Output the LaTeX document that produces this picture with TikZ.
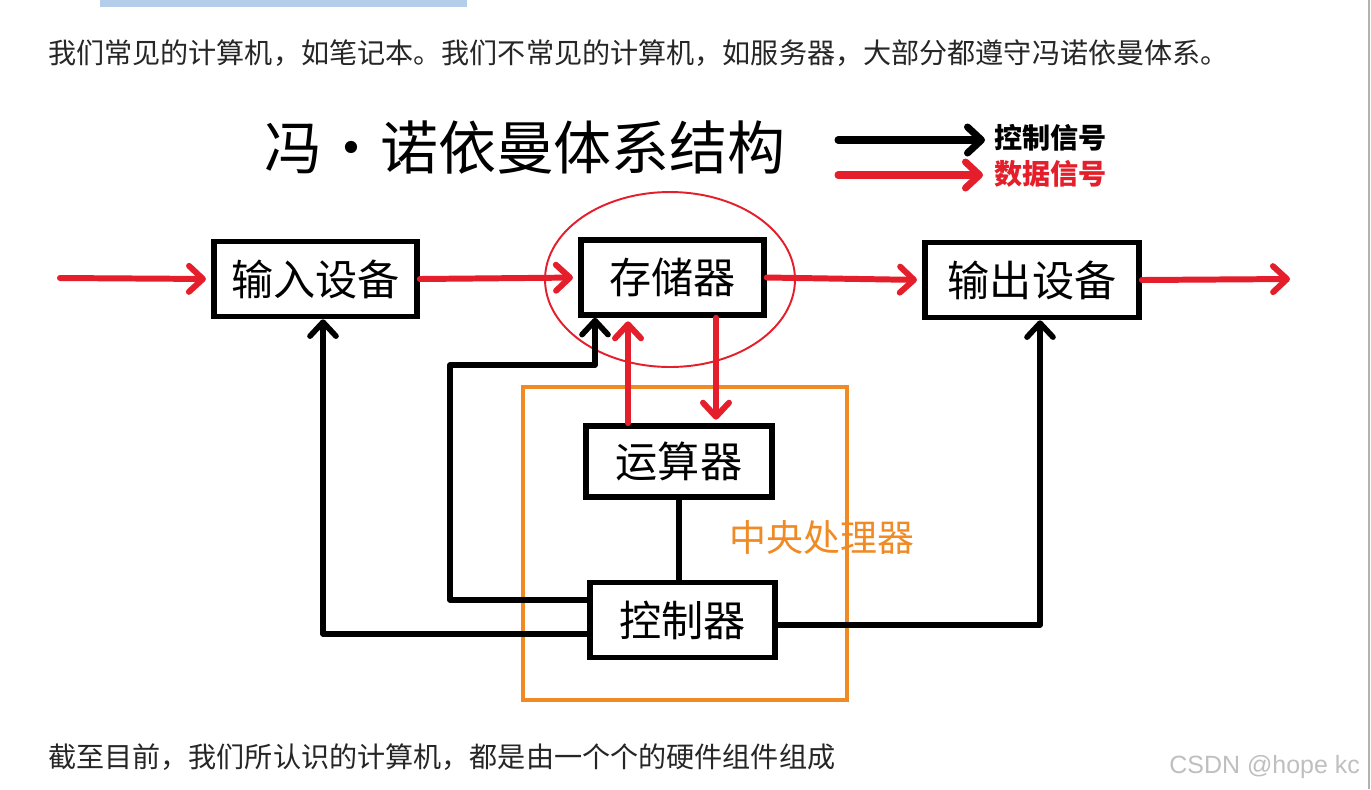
\documentclass[tikz,border=0pt]{standalone}
\usepackage{fontspec}
\setmainfont{Noto Sans CJK SC}
\newfontfamily\wmfont{Liberation Sans}
\usetikzlibrary{arrows.meta}
\definecolor{datared}{HTML}{E41E2B}
\definecolor{cpuorange}{HTML}{F08A24}
\definecolor{barblue}{HTML}{B4CDEB}
\begin{document}
\begin{tikzpicture}[x=.02cm, y=-.02cm,
  >={Straight Barb[round, length=2.8mm, width=5.2mm]},
  unit/.style={draw, line width=3.2pt, minimum height=1.5cm, font=\fontsize{24}{24}\selectfont},
  data/.style={datared, line width=3.4pt, line cap=round},
  ctrl/.style={black, line width=3.2pt, line cap=round, line join=round}]
\useasboundingbox[fill=white](0,0) rectangle (1371,789);
\fill[barblue](100,0) rectangle (467,7);
\draw[gray!60, line width=1pt](1369,0)--(1369,789);
\node[anchor=west, text=black!85, font=\fontsize{16}{16}\selectfont] (intro) at (42,53) {我们常见的计算机，如笔记本。我们不常见的计算机，如服务器，大部分都遵守冯诺依曼体系。};
\node[font=\fontsize{33}{33}\selectfont] (title) at (525,148) {冯・诺依曼体系结构};
% legend
\coordinate (kA) at (838,140); \coordinate (kB) at (985,140);
\coordinate (dA) at (838,175); \coordinate (dB) at (983,175);
\draw[ctrl, line width=4pt,->](kA)--(kB);
\draw[data, line width=4pt,->](dA)--(dB);
\node[anchor=west, font=\fontsize{16}{16}\bfseries\selectfont] (kT) at (988,138) {控制信号};
\node[anchor=west, text=datared, font=\fontsize{16}{16}\bfseries\selectfont] (dT) at (988,174) {数据信号};
% units
\node[unit, minimum width=4.06cm] (in) at (315.5,279) {输入设备};
\node[unit, minimum width=3.66cm] (mem) at (672.5,277.5) {存储器};
\node[unit, minimum width=4.28cm] (out) at (1032,280) {输出设备};
\node[unit, minimum width=3.72cm, minimum height=1.42cm] (alu) at (679,461.5) {运算器};
\node[unit, minimum width=3.70cm] (cu) at (682.5,620) {控制器};
% cpu frame
\draw[cpuorange, line width=1.8pt](523,387) rectangle (847,700);
\node[text=cpuorange, font=\fontsize{21}{21}\selectfont] (cpu) at (822,537) {中央处理器};
\draw[datared, line width=1.1pt](670,279.5) ellipse (2.5cm and 1.75cm);
% data flow
\coordinate (src) at (60,278); \coordinate (snk) at (1290,279);
\draw[data,->, shorten >=3pt](src)--(in.west);
\draw[data,->, shorten >=3pt](in.east)--(mem.west);
\draw[data,->, shorten >=3pt](mem.east)--(out.west);
\draw[data,->](out.east)--(snk);
\draw[data,->, shorten >=2pt]([xshift=-1.02cm]alu.north)--([xshift=-1.02cm]alu.north |- mem.south);
\draw[data,->, shorten >=2pt]([xshift=.74cm]alu.north |- mem.south)--([xshift=.74cm]alu.north);
% control flow
\coordinate (c1) at (450,365);
\draw[ctrl](alu.south)--(alu.south |- cu.north);
\draw[ctrl,->]([yshift=.4cm]cu.west) -| (c1) -| ([xshift=-1.55cm]mem.south);
\draw[ctrl,->]([yshift=-.28cm]cu.west) -| ([xshift=.15cm]in.south);
\draw[ctrl,->]([yshift=-.1cm]cu.east) -| ([xshift=.16cm]out.south);
\node[anchor=west, text=black!85, font=\fontsize{16}{16}\selectfont] (outro) at (42,757) {截至目前，我们所认识的计算机，都是由一个个的硬件组件组成};
\node[anchor=east, text=black!25, font=\wmfont\fontsize{14.2}{15}\selectfont] (wm) at (1366,767) {CSDN @hope kc};
\end{tikzpicture}
\end{document}
